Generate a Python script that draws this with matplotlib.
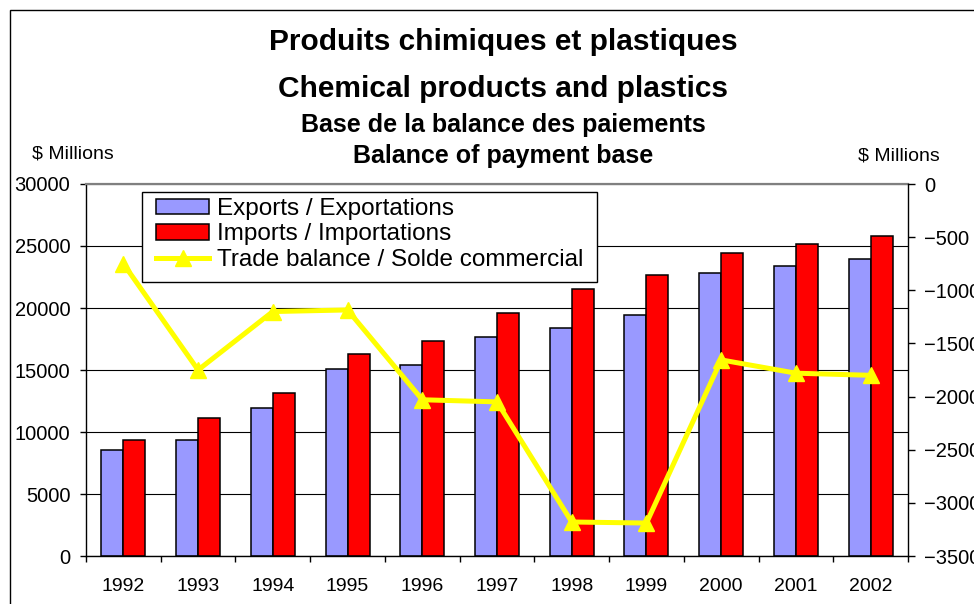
import numpy as np
import matplotlib
matplotlib.use("Agg")
import matplotlib.pyplot as plt
from matplotlib.patches import Rectangle

plt.rcParams['font.family'] = ['Liberation Sans', 'DejaVu Sans']

# data
years = ["1992", "1993", "1994", "1995", "1996", "1997",
         "1998", "1999", "2000", "2001", "2002"]
exports = [8580, 9360, 11910, 15080, 15380, 17640,
           18410, 19430, 22820, 23390, 23980]
imports = [9360, 11160, 13120, 16320, 17370, 19600,
           21560, 22660, 24460, 25160, 25830]
balance = [-750, -1750, -1200, -1185, -2030, -2050,
           -3180, -3190, -1655, -1780, -1800]

W, H = 974, 604
fig = plt.figure(figsize=(W / 100, H / 100), dpi=100)

# plot area in pixels: left 86, right 908, top 184, bottom 556
ax = fig.add_axes([86 / W, 1 - 556 / H, (908 - 86) / W, (556 - 184) / H])
x = np.arange(len(years))

ax.bar(x - 0.1475, exports, width=0.295, color="#9999FF", edgecolor="black",
       linewidth=1.1, label="Exports / Exportations")
ax.bar(x + 0.1475, imports, width=0.295, color="#FF0000", edgecolor="black",
       linewidth=1.1, label="Imports / Importations")

ax.set_xlim(-0.5, len(years) - 0.5)
ax.set_ylim(0, 30000)
ax.set_yticks(np.arange(0, 30001, 5000))
ax.set_axisbelow(True)
ax.yaxis.grid(True, color="black", linewidth=0.8)

ax.set_xticks(x)
ax.set_xticklabels(years)
ax.set_xticks(np.arange(-0.5, len(years), 1), minor=True)
ax.tick_params(axis="x", which="major", length=0, pad=16, labelsize=14)
ax.tick_params(axis="x", which="minor", length=4.3, width=1, direction="out")
ax.tick_params(axis="y", length=4.3, width=1, pad=7, labelsize=14.5)

ax.spines["top"].set_color("#808080")
ax.spines["top"].set_linewidth(1.6)
ax.spines["right"].set_visible(False)
for s in ("left", "bottom"):
    ax.spines[s].set_linewidth(1)

ax2 = ax.twinx()
ax2.plot(x, balance, color="#FFFF00", linewidth=3.6, marker="^",
         markersize=12, markerfacecolor="#FFFF00", markeredgecolor="#FFFF00",
         label="Trade balance / Solde commercial")
ax2.set_ylim(-3500, 0)
ax2.set_yticks(np.arange(-3500, 1, 500))
ax2.tick_params(axis="y", length=5, width=1, pad=6.5, labelsize=14.5)
for s in ("top", "left", "bottom"):
    ax2.spines[s].set_visible(False)
ax2.spines["right"].set_linewidth(1)

# legend (box drawn separately so the inner margins can differ)
h1, l1 = ax.get_legend_handles_labels()
h2, l2 = ax2.get_legend_handles_labels()
leg = ax2.legend(h1 + h2, l1 + l2, loc="upper left",
                 bbox_to_anchor=(156 / W, 1 - 198 / H),
                 bbox_transform=fig.transFigure, borderaxespad=0,
                 fontsize=17.5, frameon=False, borderpad=0, labelspacing=0.14,
                 handlelength=2.2, handleheight=0.6, handletextpad=0.3)
leg.set_zorder(10)
ax2.add_patch(Rectangle((141.5 / W, 1 - 281.5 / H), (597 - 141.5) / W,
                        (281.5 - 191.5) / H, transform=fig.transFigure,
                        facecolor="white", edgecolor="black", linewidth=1,
                        zorder=9, clip_on=False))

# titles
cx = 503 / W
fig.text(cx, 1 - 49.5 / H, "Produits chimiques et plastiques", ha="center",
         va="baseline", fontsize=21.5, fontweight="bold")
fig.text(cx, 1 - 96.7 / H, "Chemical products and plastics", ha="center",
         va="baseline", fontsize=21.5, fontweight="bold")
fig.text(cx, 1 - 131.7 / H, "Base de la balance des paiements", ha="center",
         va="baseline", fontsize=18, fontweight="bold")
fig.text(cx, 1 - 163.3 / H, "Balance of payment base", ha="center",
         va="baseline", fontsize=18, fontweight="bold")

fig.text(72.5 / W, 1 - 158.5 / H, "$ Millions", ha="center", va="baseline",
         fontsize=14)
fig.text(899 / W, 1 - 161 / H, "$ Millions", ha="center", va="baseline",
         fontsize=14)

# outer chart border (extends beyond the cropped right/bottom edges)
fig.add_artist(Rectangle((9.5 / W, -0.1), 2, 1 - 10 / H + 0.1,
                         transform=fig.transFigure, fill=False,
                         edgecolor="black", linewidth=1))

fig.savefig("out.png", dpi=100)
